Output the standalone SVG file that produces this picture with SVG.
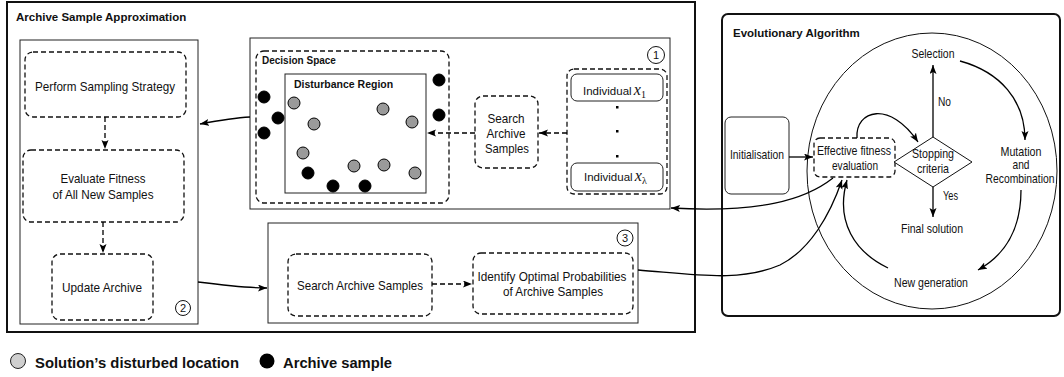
<svg xmlns="http://www.w3.org/2000/svg" width="1064" height="377" viewBox="0 0 1064 377">
<defs>
<marker id="ah" markerWidth="10" markerHeight="8" refX="9" refY="3.5" orient="auto" markerUnits="userSpaceOnUse">
<path d="M0,0 L9,3.5 L0,7 L2,3.5 Z" fill="#000"/>
</marker>
</defs>
<style>
text{font-family:"Liberation Sans",Arial,sans-serif;fill:#111}
.t{font-size:13.5px}
.c{text-anchor:middle}
.b{font-weight:bold}
.m{font-family:"Liberation Serif","Times New Roman",serif;font-style:italic}
.frame{fill:#fff;stroke:#111;stroke-width:2}
.box{fill:#fff;stroke:#222;stroke-width:1}
.dash{fill:#fff;stroke:#111;stroke-width:1.3;stroke-dasharray:5,3}
.blk{fill:#000;stroke:#000;stroke-width:1}
.gry{fill:#9a9a9a;stroke:#000;stroke-width:1}
.num{fill:#fff;stroke:#111;stroke-width:1}
.ln{fill:none;stroke:#000;stroke-width:1.3}
.dl{fill:none;stroke:#000;stroke-width:1.3;stroke-dasharray:5,3}
</style>
<rect width="1064" height="377" fill="#fff"/>

<g id="archive-sample-approximation">
<rect class="frame" x="7" y="2" width="688" height="330"/>
<text class="b" x="16" y="21" font-size="11.5">Archive Sample Approximation</text>
</g>

<g id="panel-2">
<rect class="box" x="20" y="40" width="178" height="284"/>
<circle class="num" cx="183" cy="308" r="7.5"/>
<text class="c" x="183" y="312" font-size="11">2</text>
</g>
<g id="perform-sampling">
<rect class="dash" x="25" y="52" width="161" height="65" rx="8"/>
<text class="t c" x="105" y="91" textLength="140" lengthAdjust="spacingAndGlyphs">Perform Sampling Strategy</text>
</g>
<g id="evaluate-fitness">
<rect class="dash" x="23" y="150" width="161" height="72" rx="8"/>
<text class="t c" x="103" y="183" textLength="85" lengthAdjust="spacingAndGlyphs">Evaluate Fitness</text>
<text class="t c" x="103" y="199" textLength="101" lengthAdjust="spacingAndGlyphs">of All New Samples</text>
</g>
<g id="update-archive">
<rect class="dash" x="52" y="254" width="101" height="66" rx="8"/>
<text class="t c" x="102" y="292" textLength="80" lengthAdjust="spacingAndGlyphs">Update Archive</text>
</g>

<g id="panel-1">
<rect class="box" x="250" y="38" width="420" height="171"/>
<circle class="num" cx="656" cy="55" r="8.5"/>
<text class="c" x="656" y="59" font-size="11">1</text>
</g>
<g id="decision-space">
<rect class="dash" x="256" y="51" width="193" height="152" rx="8"/>
<text class="b" x="262" y="64" font-size="10">Decision Space</text>
</g>
<g id="disturbance-region">
<rect class="box" x="285" y="74" width="141" height="119" stroke-width="1.3"/>
<text class="b" x="294" y="88" font-size="10.5">Disturbance Region</text>
</g>
<g id="samples">
<circle class="blk" cx="439" cy="80" r="6"/>
<circle class="blk" cx="439" cy="115" r="6"/>
<circle class="blk" cx="264" cy="97" r="6"/>
<circle class="blk" cx="278" cy="118" r="6"/>
<circle class="blk" cx="264" cy="133" r="6"/>
<circle class="blk" cx="308" cy="173" r="6"/>
<circle class="blk" cx="333" cy="186" r="6"/>
<circle class="blk" cx="365" cy="186" r="6"/>
<circle class="gry" cx="294" cy="103" r="6"/>
<circle class="gry" cx="314" cy="124" r="6"/>
<circle class="gry" cx="383" cy="109" r="6"/>
<circle class="gry" cx="412" cy="122" r="6"/>
<circle class="gry" cx="303" cy="153" r="6"/>
<circle class="gry" cx="354" cy="166" r="6"/>
<circle class="gry" cx="384" cy="165" r="6"/>
<circle class="gry" cx="415" cy="173" r="6"/>
</g>
<g id="search-archive-1">
<rect class="dash" x="475" y="96" width="63" height="72" rx="8"/>
<text class="t c" x="506" y="123" textLength="37" lengthAdjust="spacingAndGlyphs">Search</text>
<text class="t c" x="506" y="138" textLength="39" lengthAdjust="spacingAndGlyphs">Archive</text>
<text class="t c" x="507" y="153" textLength="44" lengthAdjust="spacingAndGlyphs">Samples</text>
</g>
<g id="individuals">
<rect class="dash" x="567" y="69" width="100" height="125" rx="7"/>
<rect class="box" x="571" y="74" width="92" height="27" rx="6"/>
<text x="583" y="95" font-size="11.5">Individual <tspan class="m" font-size="16" dx="-1">x</tspan><tspan font-family="Liberation Serif, serif" font-size="10" dy="3">1</tspan></text>
<rect x="616" y="106" width="2.5" height="2.5" fill="#000"/>
<rect x="616" y="130" width="2.5" height="2.5" fill="#000"/>
<rect x="616" y="155" width="2.5" height="2.5" fill="#000"/>
<rect class="box" x="571" y="163" width="92" height="28" rx="6"/>
<text x="584" y="181" font-size="11.5">Individual <tspan class="m" font-size="16" dx="-1">x</tspan><tspan font-family="Liberation Serif, serif" font-size="10" dy="3">λ</tspan></text>
</g>

<g id="panel-3">
<rect class="box" x="268" y="223" width="370" height="100"/>
<circle class="num" cx="625" cy="238" r="8"/>
<text class="c" x="625" y="242" font-size="11">3</text>
</g>
<g id="search-archive-3">
<rect class="dash" x="288" y="254" width="144" height="62" rx="8"/>
<text class="t c" x="360" y="290" textLength="126" lengthAdjust="spacingAndGlyphs">Search Archive Samples</text>
</g>
<g id="identify-probabilities">
<rect class="dash" x="473" y="253" width="160" height="61" rx="8"/>
<text class="t c" x="552" y="281" textLength="149" lengthAdjust="spacingAndGlyphs">Identify Optimal Probabilities</text>
<text class="t c" x="553" y="296" textLength="100" lengthAdjust="spacingAndGlyphs">of Archive Samples</text>
</g>

<g id="evolutionary-algorithm">
<rect class="frame" x="722" y="14" width="338" height="302" rx="6"/>
<text class="b" x="733" y="37" font-size="11.5">Evolutionary Algorithm</text>
<ellipse cx="932" cy="171" rx="125" ry="138" fill="none" stroke="#111" stroke-width="1"/>
</g>
<g id="initialisation">
<rect class="box" x="725" y="117" width="64" height="77" rx="6"/>
<text class="t c" x="757" y="159" textLength="54" lengthAdjust="spacingAndGlyphs">Initialisation</text>
</g>
<g id="effective-fitness">
<rect class="dash" x="814" y="138" width="81" height="39" rx="6"/>
<text class="t c" x="854" y="155" textLength="74" lengthAdjust="spacingAndGlyphs">Effective fitness</text>
<text class="t c" x="855" y="170" textLength="46" lengthAdjust="spacingAndGlyphs">evaluation</text>
</g>
<g id="stopping-criteria">
<polygon points="933,137 972,162 933,187 894,162" fill="#fff" stroke="#111" stroke-width="1"/>
<text class="t c" x="933" y="158" textLength="42" lengthAdjust="spacingAndGlyphs">Stopping</text>
<text class="t c" x="933" y="173" textLength="32" lengthAdjust="spacingAndGlyphs">criteria</text>
</g>
<g id="selection">
<text class="t c" x="933" y="58" textLength="43" lengthAdjust="spacingAndGlyphs">Selection</text>
</g>
<g id="mutation-recombination">
<text class="t c" x="1021" y="156" textLength="41" lengthAdjust="spacingAndGlyphs">Mutation</text>
<text class="t c" x="1021" y="169" textLength="17" lengthAdjust="spacingAndGlyphs">and</text>
<text class="t c" x="1020" y="183" textLength="69" lengthAdjust="spacingAndGlyphs">Recombination</text>
</g>
<g id="final-solution">
<text class="t c" x="932" y="233" textLength="62" lengthAdjust="spacingAndGlyphs">Final solution</text>
</g>
<g id="new-generation">
<text class="t c" x="931" y="287" textLength="74" lengthAdjust="spacingAndGlyphs">New generation</text>
</g>

<g id="connectors">
<path class="ln" d="M250,117 C232,118 216,121 200,124" marker-end="url(#ah)"/>
<path class="dl" d="M105,117 L105,149" marker-end="url(#ah)"/>
<path class="dl" d="M103,222 L103,253" marker-end="url(#ah)"/>
<path class="ln" d="M198,282 C230,286 248,288 267,288" marker-end="url(#ah)"/>
<path class="dl" d="M475,133 L427,133" marker-end="url(#ah)"/>
<path class="dl" d="M567,133 L539,133" marker-end="url(#ah)"/>
<path class="dl" d="M432,284 L472,284" marker-end="url(#ah)"/>
<path class="ln" d="M833,178 C805,200 760,213 671,208" marker-end="url(#ah)"/>
<path class="ln" d="M638,270 C700,275 740,282 780,265 C810,250 830,215 842,180" marker-end="url(#ah)"/>
<path class="ln" d="M789,157 L813,157" marker-end="url(#ah)"/>
<path class="ln" d="M857,138 C855,110 890,100 918,142" marker-end="url(#ah)"/>
<path class="ln" d="M933,137 L933,65" marker-end="url(#ah)"/>
<text class="t" x="938" y="106" textLength="13" lengthAdjust="spacingAndGlyphs">No</text>
<path class="ln" d="M933,187 L933,217" marker-end="url(#ah)"/>
<text class="t" x="943" y="200" textLength="15" lengthAdjust="spacingAndGlyphs">Yes</text>
<path class="ln" d="M960,61 C1000,72 1025,100 1025,140" marker-end="url(#ah)"/>
<path class="ln" d="M1021,190 C1021,230 1005,255 978,270" marker-end="url(#ah)"/>
<path class="ln" d="M888,268 C855,252 835,222 847,180" marker-end="url(#ah)"/>
</g>

<g id="legend">
<circle cx="18" cy="361" r="7.5" fill="#cfcfcf" stroke="#222" stroke-width="1"/>
<text class="b" x="35" y="368" font-size="15" textLength="204" lengthAdjust="spacingAndGlyphs">Solution’s disturbed location</text>
<circle cx="267" cy="361" r="7.5" fill="#000"/>
<text class="b" x="283" y="368" font-size="15" textLength="109" lengthAdjust="spacingAndGlyphs">Archive sample</text>
</g>
</svg>
